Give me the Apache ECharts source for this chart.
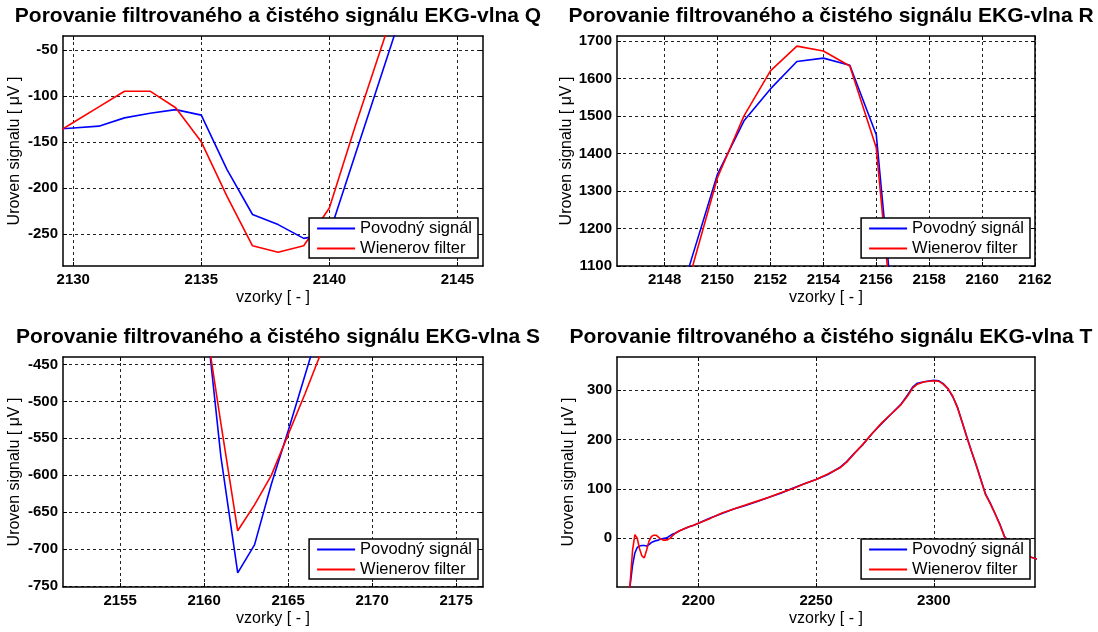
<!DOCTYPE html>
<html><head><meta charset="utf-8">
<script src="https://cdn.jsdelivr.net/npm/echarts@6/dist/echarts.min.js"></script>
<style>html,body{margin:0;padding:0;background:#fff}#c{width:1098px;height:632px}</style>
</head><body><div id="c"></div>
<script>
// ---- data ----
const seriesNames = ['Povodný signál', 'Wienerov filter'];
const titleQ = 'Porovanie filtrovaného a čistého signálu EKG-vlna Q';
const titleR = 'Porovanie filtrovaného a čistého signálu EKG-vlna R';
const titleS = 'Porovanie filtrovaného a čistého signálu EKG-vlna S';
const titleT = 'Porovanie filtrovaného a čistého signálu EKG-vlna T';
const xName = 'vzorky [ - ]';
const yName = 'Uroven signalu [ μV ]';

const qX    = [2129, 2130, 2131, 2132, 2133, 2134, 2135, 2136, 2137, 2138, 2139, 2140, 2141, 2142, 2143];
const qBlue = [-137, -135, -133, -124, -119, -115, -121, -180, -229, -240, -255, -250, -165, -80, 5];
const qRed  = [-146, -129, -112, -95, -95, -113, -150, -209, -263, -270, -263, -222, -134, -50, 34];
const qXTicks = [2130, 2135, 2140, 2145];
const qYTicks = [-250, -200, -150, -100, -50];

const rX    = [2148, 2149, 2150, 2151, 2152, 2153, 2154, 2155, 2156, 2157];
const rBlue = [880, 1115, 1345, 1487, 1572, 1645, 1654, 1635, 1450, 700];
const rRed  = [830, 1085, 1336, 1500, 1620, 1686, 1673, 1633, 1415, 660];
const rXTicks = [2148, 2150, 2152, 2154, 2156, 2158, 2160, 2162];
const rYTicks = [1100, 1200, 1300, 1400, 1500, 1600, 1700];

const sX    = [2160, 2161, 2162, 2163, 2164, 2165, 2166, 2167, 2168];
const sBlue = [-362, -575, -732, -694, -612, -540, -465, -390, -315];
const sRed  = [-380, -530, -675, -640, -600, -545, -490, -432, -372];
const sXTicks = [2155, 2160, 2165, 2170, 2175];
const sYTicks = [-750, -700, -650, -600, -550, -500, -450];

const tX    = [2168, 2170, 2171, 2172, 2173, 2174, 2175, 2176, 2177, 2178, 2179, 2180, 2181, 2182, 2183, 2184, 2185, 2186, 2187, 2188, 2189, 2190, 2192, 2194, 2196, 2198, 2200, 2205, 2210, 2215, 2220, 2225, 2230, 2235, 2240, 2245, 2250, 2255, 2260, 2263, 2266, 2270, 2274, 2278, 2282, 2286, 2289, 2291, 2293, 2296, 2300, 2302, 2304, 2306, 2308, 2310, 2312, 2314, 2316, 2318, 2320, 2322, 2324, 2326, 2328, 2330, 2333, 2337, 2341, 2345];
const tBlue = [-260, -150, -95, -55, -30, -19, -16, -15, -15, -16, -13, -9, -7, -5, -4, -2, -1, 0, 2, 5, 8, 10, 15, 19, 23, 26, 30, 41, 50, 59, 66, 74, 83, 91, 101, 110, 119, 129, 143, 155, 171, 190, 213, 233, 252, 271, 291, 306, 314, 317, 320, 319, 313, 303, 287, 266, 236, 206, 176, 148, 119, 89, 71, 50, 29, 4, -14, -28, -38, -44];
const tRed  = [-260, -155, -90, -25, 7, 0, -22, -36, -40, -24, -6, 3, 6, 6, 2, -2, -4, -4, -3, 0, 5, 9, 15, 19, 23, 26, 30, 40, 51, 59, 67, 75, 83, 92, 100, 110, 119, 130, 142, 154, 170, 191, 213, 234, 252, 270, 289, 304, 312, 317, 319, 318, 312, 303, 288, 265, 236, 205, 176, 148, 118, 88, 70, 50, 28, 3, -15, -28, -38, -44];
const tXTicks = [2200, 2250, 2300];
const tYTicks = [0, 100, 200, 300];

// ---- layout / style ----
const FONT = "'Liberation Sans', Arial, sans-serif";
const panels = [
  {title: titleQ, grid: {left: 63, top: 36, width: 420, height: 230}, xMin: 2129.6, xMax: 2146, yMin: -285, yMax: -35,
   xTicks: qXTicks, yTicks: qYTicks, x: qX, b: qBlue, r: qRed},
  {title: titleR, grid: {left: 617, top: 36, width: 418, height: 230}, xMin: 2146.2, xMax: 2162, yMin: 1100, yMax: 1713,
   xTicks: rXTicks, yTicks: rYTicks, x: rX, b: rBlue, r: rRed},
  {title: titleS, grid: {left: 63, top: 357, width: 420, height: 230}, xMin: 2151.6, xMax: 2176.6, yMin: -751, yMax: -440,
   xTicks: sXTicks, yTicks: sYTicks, x: sX, b: sBlue, r: sRed},
  {title: titleT, grid: {left: 617, top: 357, width: 418, height: 230}, xMin: 2165.4, xMax: 2343, yMin: -99, yMax: 367,
   xTicks: tXTicks, yTicks: tYTicks, x: tX, b: tBlue, r: tRed}
];

const grids = [], xAxes = [], yAxes = [], series = [], titles = [], legends = [];
const gridLine = {show: true, lineStyle: {color: '#222', width: 1, type: [3, 3]}};
const axisLine = {show: true, onZero: false, lineStyle: {color: '#000', width: 1.5}};
const labelStyle = {color: '#000', fontSize: 15, fontWeight: 'bold', fontFamily: FONT};
const nameStyle = {color: '#000', fontSize: 16, fontFamily: FONT};
const fmt = v => String(Math.round(v));

panels.forEach((p, i) => {
  grids.push(Object.assign({containLabel: false, show: false}, p.grid));
  const cx = p.grid.left + p.grid.width / 2;
  titles.push({text: p.title, left: cx, top: p.grid.top - 35, textAlign: 'center',
    textStyle: {fontSize: 21, fontWeight: 'bold', color: '#000', fontFamily: FONT}});
  xAxes.push({type: 'value', gridIndex: i, position: 'bottom', min: p.xMin, max: p.xMax,
    axisLine: axisLine,
    axisTick: {show: true, inside: true, length: 4, customValues: p.xTicks, lineStyle: {color: '#000'}},
    axisLabel: {show: true, customValues: p.xTicks, formatter: fmt, margin: 6, ...labelStyle},
    splitLine: gridLine,
    name: xName, nameLocation: 'middle', nameGap: 24, nameTextStyle: nameStyle});
  xAxes.push({type: 'value', gridIndex: i, position: 'top', min: p.xMin, max: p.xMax,
    axisLine: axisLine,
    axisTick: {show: true, inside: true, length: 4, customValues: p.xTicks, lineStyle: {color: '#000'}},
    axisLabel: {show: false}, splitLine: {show: false}});
  yAxes.push({type: 'value', gridIndex: i, position: 'left', min: p.yMin, max: p.yMax,
    axisLine: axisLine,
    axisTick: {show: true, inside: true, length: 4, customValues: p.yTicks, lineStyle: {color: '#000'}},
    axisLabel: {show: true, customValues: p.yTicks, formatter: fmt, margin: 5, ...labelStyle},
    splitLine: gridLine,
    name: yName, nameLocation: 'middle', nameGap: 40, nameRotate: 90, nameTextStyle: nameStyle});
  yAxes.push({type: 'value', gridIndex: i, position: 'right', min: p.yMin, max: p.yMax,
    axisLine: axisLine,
    axisTick: {show: true, inside: true, length: 4, customValues: p.yTicks, lineStyle: {color: '#000'}},
    axisLabel: {show: false}, splitLine: {show: false}});

  const bData = p.x.map((xv, k) => [xv, p.b[k]]);
  const rData = p.x.map((xv, k) => [xv, p.r[k]]);
  series.push({name: seriesNames[0], type: 'line', xAxisIndex: 2 * i, yAxisIndex: 2 * i, data: bData,
    symbol: 'none', clip: true, lineStyle: {color: '#0000ff', width: 1.6}, itemStyle: {color: '#0000ff'}, z: 2});
  series.push({name: seriesNames[1], type: 'line', xAxisIndex: 2 * i, yAxisIndex: 2 * i, data: rData,
    symbol: 'none', clip: true, lineStyle: {color: '#ff0000', width: 1.6}, itemStyle: {color: '#ff0000'}, z: 3});

  legends.push({data: seriesNames, orient: 'vertical', icon: 'rect',
    right: 1098 - (p.grid.left + p.grid.width) + 5, top: p.grid.top + p.grid.height - 48,
    backgroundColor: '#fff', borderColor: '#000', borderWidth: 1.5, borderRadius: 0,
    padding: [1, 6, 0, 8], itemGap: 1, itemWidth: 38, itemHeight: 2, selectedMode: false,
    textStyle: {fontSize: 16.5, color: '#000', fontFamily: FONT, lineHeight: 19}, z: 10});
});

const chart = echarts.init(document.getElementById('c'), null, {renderer: 'canvas'});
chart.setOption({
  animation: false,
  backgroundColor: '#fff',
  title: titles,
  legend: legends,
  grid: grids,
  xAxis: xAxes,
  yAxis: yAxes,
  series: series
});
</script>
</body></html>
